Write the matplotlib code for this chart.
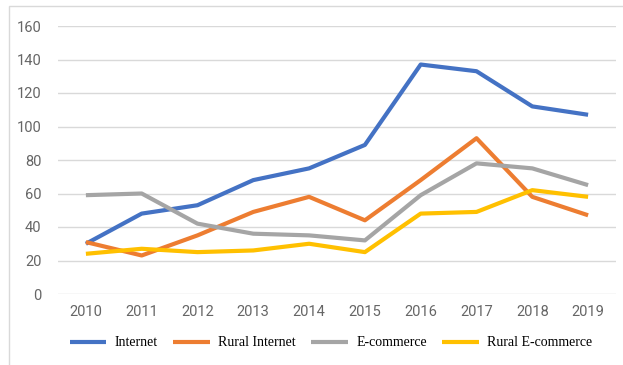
import matplotlib
matplotlib.use("Agg")
import matplotlib.pyplot as plt
from matplotlib.patches import Rectangle
import numpy as np

years = ['2010', '2011', '2012', '2013', '2014', '2015', '2016', '2017', '2018', '2019']
internet = [30, 48, 53, 68, 75, 89, 137, 133, 112, 107]
rural_internet = [31, 23, 35, 49, 58, 44, 68, 93, 58, 47]
ecommerce = [59, 60, 42, 36, 35, 32, 59, 78, 75, 65]
rural_ecommerce = [24, 27, 25, 26, 30, 25, 48, 49, 62, 58]

series_names = ['Internet', 'Rural Internet', 'E-commerce', 'Rural E-commerce']
colors = ['#4472C4', '#ED7D31', '#A5A5A5', '#FFC000']


def run():
	fig = plt.figure(figsize=(6.23, 3.65), dpi=100)
	ax = fig.add_axes([58 / 623, 1 - 294 / 365, (616 - 58) / 623, (294 - 26) / 365])

	x_axis = np.arange(len(years))
	for values, name, color in zip([internet, rural_internet, ecommerce, rural_ecommerce], series_names, colors):
		ax.plot(x_axis, values, color=color, linewidth=3, label=name, solid_capstyle='butt')

	ax.set_xlim(-0.5, len(years) - 0.5)
	ax.set_ylim(0, 160)
	ax.set_yticks(range(0, 161, 20))
	ax.set_xticks(x_axis)
	ax.set_xticklabels(years)
	ax.grid(axis='y', color='#D9D9D9', linewidth=1)
	ax.set_axisbelow(True)
	for side in ['top', 'right', 'left', 'bottom']:
		ax.spines[side].set_visible(False)
	ax.tick_params(length=0, labelsize=10.5, labelcolor='#666666', pad=8)
	for lbl in ax.get_xticklabels() + ax.get_yticklabels():
		lbl.set_fontfamily('Roboto')
	ax.tick_params(axis='y', pad=12)

	fig.legend(loc='center', bbox_to_anchor=(331 / 623, 1 - 343 / 365), ncol=4, frameon=False,
		prop={'family': 'Liberation Serif', 'size': 10}, handlelength=2.65, handletextpad=0.6,
		columnspacing=1.1)

	# outer frame, cut off at right and bottom like the source image
	fig.patches.append(Rectangle((9 / 623, -0.05), 1.0, 0.05 + 359 / 365, transform=fig.transFigure,
		fill=False, edgecolor='#D9D9D9', linewidth=1))

	fig.savefig('out.png', dpi=100)


if __name__ == "__main__":
	run()
